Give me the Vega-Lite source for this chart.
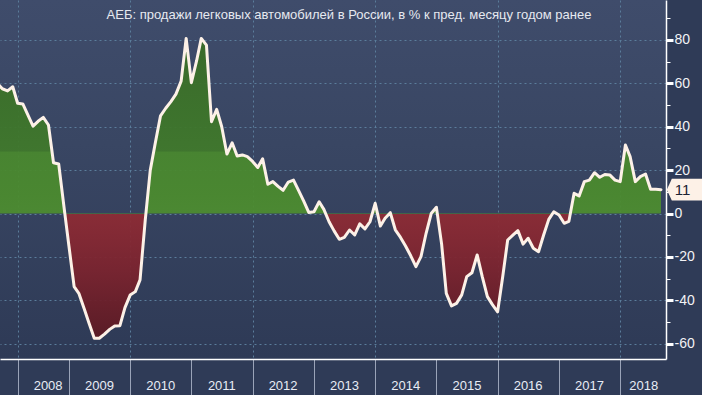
{
  "$schema": "https://vega.github.io/schema/vega-lite/v6.json",
  "width": 666,
  "height": 359,
  "autosize": {"type": "none"},
  "padding": {"left": 0, "top": 0, "right": 36, "bottom": 36},
  "background": "#2f3b57",
  "view": {
    "stroke": null,
    "fill": {
      "gradient": "linear", "x1": 0, "y1": 0, "x2": 0, "y2": 1,
      "stops": [
        {"offset": 0, "color": "#3f4c6b"},
        {"offset": 0.4, "color": "#394663"},
        {"offset": 1, "color": "#2e3a56"}
      ]
    }
  },
  "title": {
    "text": "АЕБ: продажи легковых автомобилей в России, в % к пред. месяцу годом ранее",
    "orient": "top", "anchor": "middle", "frame": "group",
    "offset": -22, "dx": 16,
    "font": "Liberation Sans", "fontSize": 13, "fontWeight": "normal", "color": "#e6e9f0"
  },
  "data": {
    "values": [
      {"date": "2007-11-01", "value": 60},
      {"date": "2007-12-01", "value": 57.5},
      {"date": "2008-01-01", "value": 56.5},
      {"date": "2008-02-01", "value": 58.4},
      {"date": "2008-03-01", "value": 50.8},
      {"date": "2008-04-01", "value": 50.5},
      {"date": "2008-05-01", "value": 45.5},
      {"date": "2008-06-01", "value": 40.3},
      {"date": "2008-07-01", "value": 42.5},
      {"date": "2008-08-01", "value": 44.3},
      {"date": "2008-09-01", "value": 40.8},
      {"date": "2008-10-01", "value": 23.4},
      {"date": "2008-11-01", "value": 22.8},
      {"date": "2008-12-01", "value": 4},
      {"date": "2009-01-01", "value": -15},
      {"date": "2009-02-01", "value": -33.7},
      {"date": "2009-03-01", "value": -36.8},
      {"date": "2009-04-01", "value": -43.7},
      {"date": "2009-05-01", "value": -50.6},
      {"date": "2009-06-01", "value": -57.5},
      {"date": "2009-07-01", "value": -57.5},
      {"date": "2009-08-01", "value": -55.6},
      {"date": "2009-09-01", "value": -53.4},
      {"date": "2009-10-01", "value": -51.8},
      {"date": "2009-11-01", "value": -51.7},
      {"date": "2009-12-01", "value": -43.4},
      {"date": "2010-01-01", "value": -37.6},
      {"date": "2010-02-01", "value": -36},
      {"date": "2010-03-01", "value": -30.6},
      {"date": "2010-04-01", "value": -3},
      {"date": "2010-05-01", "value": 20},
      {"date": "2010-06-01", "value": 33},
      {"date": "2010-07-01", "value": 45},
      {"date": "2010-08-01", "value": 48.5},
      {"date": "2010-09-01", "value": 51.6},
      {"date": "2010-10-01", "value": 55},
      {"date": "2010-11-01", "value": 61},
      {"date": "2010-12-01", "value": 80.7},
      {"date": "2011-01-01", "value": 60.3},
      {"date": "2011-02-01", "value": 70.3},
      {"date": "2011-03-01", "value": 80.7},
      {"date": "2011-04-01", "value": 77.6},
      {"date": "2011-05-01", "value": 42.3},
      {"date": "2011-06-01", "value": 48},
      {"date": "2011-07-01", "value": 40},
      {"date": "2011-08-01", "value": 27.4},
      {"date": "2011-09-01", "value": 32.6},
      {"date": "2011-10-01", "value": 26.5},
      {"date": "2011-11-01", "value": 27},
      {"date": "2011-12-01", "value": 26.2},
      {"date": "2012-01-01", "value": 24},
      {"date": "2012-02-01", "value": 21.2},
      {"date": "2012-03-01", "value": 25.2},
      {"date": "2012-04-01", "value": 13.5},
      {"date": "2012-05-01", "value": 14.7},
      {"date": "2012-06-01", "value": 12.5},
      {"date": "2012-07-01", "value": 10.7},
      {"date": "2012-08-01", "value": 14.5},
      {"date": "2012-09-01", "value": 15.4},
      {"date": "2012-10-01", "value": 10.7},
      {"date": "2012-11-01", "value": 5.7},
      {"date": "2012-12-01", "value": 0.5},
      {"date": "2013-01-01", "value": 0.8},
      {"date": "2013-02-01", "value": 5.4},
      {"date": "2013-03-01", "value": 1.9},
      {"date": "2013-04-01", "value": -3.8},
      {"date": "2013-05-01", "value": -8},
      {"date": "2013-06-01", "value": -11.9},
      {"date": "2013-07-01", "value": -11},
      {"date": "2013-08-01", "value": -7.6},
      {"date": "2013-09-01", "value": -9.9},
      {"date": "2013-10-01", "value": -4.8},
      {"date": "2013-11-01", "value": -7.1},
      {"date": "2013-12-01", "value": -3.8},
      {"date": "2014-01-01", "value": 4.7},
      {"date": "2014-02-01", "value": -5.8},
      {"date": "2014-03-01", "value": -2.2},
      {"date": "2014-04-01", "value": 0.4},
      {"date": "2014-05-01", "value": -7.5},
      {"date": "2014-06-01", "value": -11},
      {"date": "2014-07-01", "value": -15},
      {"date": "2014-08-01", "value": -19.5},
      {"date": "2014-09-01", "value": -24.5},
      {"date": "2014-10-01", "value": -19.9},
      {"date": "2014-11-01", "value": -9},
      {"date": "2014-12-01", "value": 0},
      {"date": "2015-01-01", "value": 2.9},
      {"date": "2015-02-01", "value": -14},
      {"date": "2015-03-01", "value": -36.8},
      {"date": "2015-04-01", "value": -42.6},
      {"date": "2015-05-01", "value": -41.4},
      {"date": "2015-06-01", "value": -37.5},
      {"date": "2015-07-01", "value": -29.1},
      {"date": "2015-08-01", "value": -27.3},
      {"date": "2015-09-01", "value": -19.1},
      {"date": "2015-10-01", "value": -29},
      {"date": "2015-11-01", "value": -38.3},
      {"date": "2015-12-01", "value": -42},
      {"date": "2016-01-01", "value": -45.3},
      {"date": "2016-02-01", "value": -28.8},
      {"date": "2016-03-01", "value": -12.2},
      {"date": "2016-04-01", "value": -10},
      {"date": "2016-05-01", "value": -7.9},
      {"date": "2016-06-01", "value": -14.1},
      {"date": "2016-07-01", "value": -11.4},
      {"date": "2016-08-01", "value": -16},
      {"date": "2016-09-01", "value": -17.6},
      {"date": "2016-10-01", "value": -10},
      {"date": "2016-11-01", "value": -2.7},
      {"date": "2016-12-01", "value": 0.8},
      {"date": "2017-01-01", "value": -0.7},
      {"date": "2017-02-01", "value": -4.5},
      {"date": "2017-03-01", "value": -3.6},
      {"date": "2017-04-01", "value": 9.3},
      {"date": "2017-05-01", "value": 8.1},
      {"date": "2017-06-01", "value": 14.7},
      {"date": "2017-07-01", "value": 15.4},
      {"date": "2017-08-01", "value": 18.8},
      {"date": "2017-09-01", "value": 16.7},
      {"date": "2017-10-01", "value": 18},
      {"date": "2017-11-01", "value": 17.7},
      {"date": "2017-12-01", "value": 15.4},
      {"date": "2018-01-01", "value": 14.7},
      {"date": "2018-02-01", "value": 31.6},
      {"date": "2018-03-01", "value": 26.2},
      {"date": "2018-04-01", "value": 14.7},
      {"date": "2018-05-01", "value": 17},
      {"date": "2018-06-01", "value": 18.2},
      {"date": "2018-07-01", "value": 11.2},
      {"date": "2018-08-01", "value": 11.2},
      {"date": "2018-09-01", "value": 11}
    ]
  },
  "encoding": {
    "x": {
      "field": "date", "type": "temporal",
      "scale": {
        "type": "utc",
        "domain": [
          {"year": 2007, "month": 11, "date": 17, "utc": true},
          {"year": 2018, "month": 10, "date": 1, "utc": true}
        ]
      },
      "axis": {
        "title": null,
        "values": [
          {"year": 2008, "month": 3, "date": 1, "utc": true},
          {"year": 2009, "month": 1, "date": 1, "utc": true},
          {"year": 2010, "month": 1, "date": 1, "utc": true},
          {"year": 2011, "month": 1, "date": 1, "utc": true},
          {"year": 2012, "month": 1, "date": 1, "utc": true},
          {"year": 2013, "month": 1, "date": 1, "utc": true},
          {"year": 2014, "month": 1, "date": 1, "utc": true},
          {"year": 2015, "month": 1, "date": 1, "utc": true},
          {"year": 2016, "month": 1, "date": 1, "utc": true},
          {"year": 2017, "month": 1, "date": 1, "utc": true},
          {"year": 2018, "month": 1, "date": 1, "utc": true}
        ],
        "format": "%Y",
        "domainColor": "#ffffff", "domainWidth": 1.5,
        "tickSize": 36, "tickColor": "#9aa3b8", "tickWidth": 1,
        "labelAlign": "center", "labelBaseline": "top",
        "labelPadding": -16,
        "labelOffset": {"condition": {"test": "utcyear(datum.value) === 2018", "value": 23}, "value": 30},
        "labelFont": "Liberation Sans", "labelFontSize": 13, "labelColor": "#e8ecf5",
        "labelFlush": false, "labelOverlap": false,
        "grid": true, "gridColor": "#5b7d9b", "gridDash": [2, 3], "gridWidth": 1,
        "gridOpacity": {"condition": {"test": "utcyear(datum.value) % 2 === 0", "value": 1}, "value": 0}
      }
    },
    "y": {
      "field": "value", "type": "quantitative",
      "scale": {"domain": [-67.05, 98.4], "nice": false, "zero": false},
      "axis": {
        "title": null, "orient": "right",
        "values": [-60, -50, -40, -30, -20, -10, 0, 10, 20, 30, 40, 50, 60, 70, 80, 90],
        "labelExpr": "datum.value % 20 === 0 ? (datum.value < 0 ? '-' + abs(datum.value) : '' + datum.value) : ''",
        "domainColor": "#ffffff", "domainWidth": 1.5,
        "tickColor": "#ffffff",
        "tickSize": {"condition": {"test": "datum.value % 20 === 0", "value": 7}, "value": 4},
        "tickWidth": {"condition": {"test": "datum.value % 20 === 0", "value": 3}, "value": 1},
        "labelPadding": 1,
        "labelFont": "Liberation Sans", "labelFontSize": 14, "labelColor": "#f2f2f5",
        "labelBaseline": "middle",
        "grid": true, "gridColor": "#5b7d9b", "gridDash": [2, 3], "gridWidth": 1,
        "gridOpacity": {"condition": {"test": "datum.value % 20 === 0", "value": 1}, "value": 0}
      }
    }
  },
  "layer": [
    {
      "mark": {
        "type": "area",
        "opacity": 0.94,
        "fill": {
          "gradient": "linear", "x1": 0, "y1": 0, "x2": 0, "y2": 1,
          "stops": [
            {"offset": 0, "color": "#3a6c27"},
            {"offset": 0.25, "color": "#3d7529"},
            {"offset": 0.375, "color": "#40792b"},
            {"offset": 0.38, "color": "#49882e"},
            {"offset": 0.52, "color": "#4b8b2e"},
            {"offset": 0.5839, "color": "#4d8d30"},
            {"offset": 0.5839, "color": "#8e2b34"},
            {"offset": 0.66, "color": "#872832"},
            {"offset": 0.78, "color": "#7a232e"},
            {"offset": 0.9, "color": "#6a1e28"},
            {"offset": 1, "color": "#5c1a23"}
          ]
        }
      },
      "encoding": {"y2": {"datum": 0}}
    },
    {
      "mark": {"type": "line", "stroke": "#fdf1e7", "strokeWidth": 3, "strokeJoin": "round", "strokeCap": "round"}
    },
    {
      "transform": [{"filter": "utcyear(datum.date) === 2018 && utcmonth(datum.date) === 8"}],
      "mark": {
        "type": "point",
        "shape": "M -1 0 L -0.745 -0.552 L 1 -0.552 L 1 0.552 L -0.745 0.552 Z",
        "size": 1544, "filled": true, "fill": "#fdf1e7", "opacity": 1, "strokeWidth": 0,
        "xOffset": 25.5
      }
    },
    {
      "transform": [{"filter": "utcyear(datum.date) === 2018 && utcmonth(datum.date) === 8"}],
      "mark": {
        "type": "text", "align": "center", "baseline": "middle", "dx": 21.5, "dy": 0,
        "font": "Liberation Sans", "fontSize": 15, "color": "#1c2233"
      },
      "encoding": {"text": {"field": "value", "type": "quantitative", "format": "d"}}
    }
  ]
}
